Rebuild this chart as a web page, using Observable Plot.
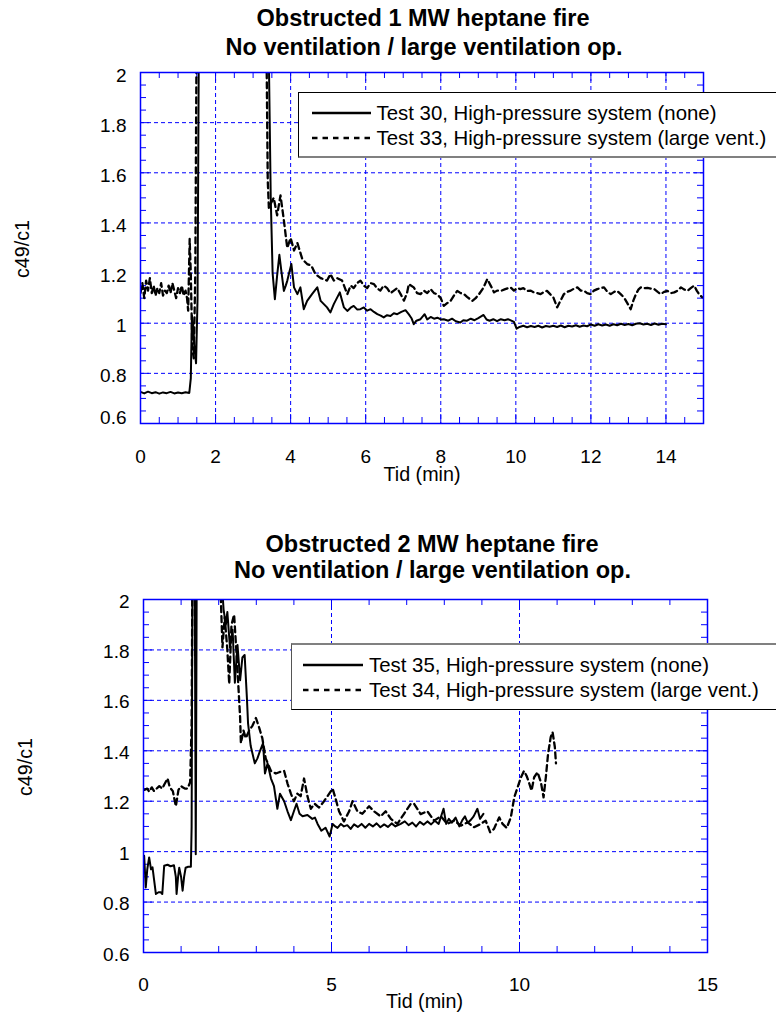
<!DOCTYPE html>
<html>
<head>
<meta charset="utf-8">
<script src="https://cdn.jsdelivr.net/npm/d3@7"></script>
<script src="https://cdn.jsdelivr.net/npm/@observablehq/plot@0.6"></script>
<style>
  html, body { margin: 0; padding: 0; background: #fff; }
  #page { position: relative; width: 776px; height: 1016px; overflow: hidden;
          font-family: "Liberation Sans", Arial, Helvetica, sans-serif; color: #000; }
  #page > svg { position: absolute; left: 0; }
  .t { position: absolute; white-space: nowrap; line-height: 1; }
  .c { transform: translate(-50%, -50%); }
  .title { font-weight: bold; font-size: 23.5px; }
  .axlabel { font-size: 19.7px; }
  .rot { transform: translate(-50%, -50%) rotate(-90deg); }
  .legbox { position: absolute; background: #fff; box-sizing: border-box; }
  .legtext { font-size: 20.4px; transform: translateY(-50%); }
  .sample { position: absolute; overflow: visible; }
</style>
</head>
<body>
<div id="page"></div>
<script>
// ---------- Obstructed 1 MW heptane fire ----------
const t30 = [0, 0.1, 0.2, 0.3, 0.4, 0.5, 0.6, 0.7, 0.8, 0.9, 1.0, 1.1, 1.2, 1.3,
  1.34, 1.37, 1.40, 1.44, 1.48, 1.52, 1.56, 1.65, 2.0, 2.5, 3.0, 3.3, 3.42, 3.47, 3.52,
  3.58, 3.64, 3.70, 3.76, 3.82, 3.87, 3.91, 3.96, 4.02, 4.09, 4.18, 4.26, 4.35, 4.44,
  4.57, 4.71, 4.80, 4.97, 5.06, 5.15, 5.31, 5.42, 5.51, 5.60, 5.68, 5.77, 5.86, 5.95,
  6.04, 6.13, 6.22, 6.31, 6.40, 6.48, 6.57, 6.66, 6.75, 6.84, 6.95, 7.06, 7.15, 7.22,
  7.28, 7.35, 7.46, 7.57, 7.64, 7.73, 7.82, 7.91, 8.0, 8.08, 8.2, 8.3, 8.4, 8.52, 8.6,
  8.7, 8.8, 8.9, 9.0, 9.14, 9.22, 9.3, 9.4, 9.5, 9.6, 9.7, 9.79, 9.88, 9.95, 10.02,
  10.1, 10.2, 10.3, 10.4, 10.5, 10.6, 10.7, 10.8, 10.9, 11.0, 11.1, 11.2, 11.3, 11.4,
  11.5, 11.6, 11.7, 11.8, 11.9, 12.0, 12.1, 12.2, 12.3, 12.4, 12.5, 12.6, 12.7, 12.8,
  12.9, 13.0, 13.1, 13.2, 13.3, 13.4, 13.5, 13.6, 13.7, 13.8, 13.9, 14.0];
const v30 = [0.726, 0.720, 0.727, 0.721, 0.725, 0.719, 0.724, 0.721, 0.726, 0.720, 0.724, 0.721, 0.725, 0.722,
  0.78, 1.03, 1.00, 0.90, 0.84, 1.10, 2.30, 2.60, 2.70, 2.80, 2.70, 2.50, 2.05, 1.50, 1.20,
  1.096, 1.19, 1.273, 1.20, 1.129, 1.15, 1.169, 1.20, 1.236, 1.143, 1.116, 1.143, 1.056, 1.089,
  1.116, 1.143, 1.089, 1.063, 1.043, 1.076, 1.123, 1.063, 1.049, 1.062, 1.069, 1.055, 1.056, 1.063,
  1.050, 1.056, 1.045, 1.036, 1.030, 1.023, 1.032, 1.029, 1.040, 1.036, 1.045, 1.052, 1.035, 1.020,
  0.996, 1.010, 1.016, 1.036, 1.015, 1.025, 1.018, 1.022, 1.015, 1.016, 1.010, 1.018, 1.008, 1.003, 1.012,
  1.010, 1.018, 1.012, 1.020, 1.033, 1.015, 1.010, 1.016, 1.008, 1.016, 1.012, 1.016, 1.010, 1.005, 0.978,
  0.985, 0.990, 0.984, 0.989, 0.985, 0.990, 0.983, 0.989, 0.986, 0.990, 0.985, 0.991, 0.984, 0.990,
  0.987, 0.992, 0.986, 0.991, 0.988, 0.995, 0.990, 0.996, 0.991, 0.995, 0.990, 0.996, 0.992, 0.998,
  0.993, 0.997, 0.992, 0.998, 1.000, 0.995, 0.998, 0.993, 0.999, 0.994, 0.998, 0.996];

const t33 = [0, 0.05, 0.1, 0.15, 0.2, 0.25, 0.3, 0.35, 0.4, 0.45, 0.5, 0.55, 0.6, 0.65, 0.7,
  0.75, 0.8, 0.85, 0.9, 0.95, 1.0, 1.05, 1.1, 1.15, 1.2, 1.24, 1.27, 1.31, 1.34, 1.38, 1.42,
  1.46, 1.50, 1.6, 2.0, 2.5, 3.0, 3.3, 3.36, 3.39, 3.42, 3.48, 3.55, 3.64, 3.73, 3.82, 3.91,
  4.0, 4.09, 4.18, 4.31, 4.44, 4.55, 4.66, 4.80, 4.97, 5.06, 5.15, 5.24, 5.37, 5.51, 5.6,
  5.68, 5.77, 5.86, 5.95, 6.04, 6.13, 6.22, 6.3, 6.39, 6.48, 6.57, 6.66, 6.75, 6.84, 6.93,
  7.02, 7.1, 7.15, 7.28, 7.37, 7.46, 7.55, 7.64, 7.73, 7.82, 7.9, 8.0, 8.08, 8.17, 8.26,
  8.35, 8.44, 8.53, 8.62, 8.7, 8.84, 8.93, 9.02, 9.13, 9.24, 9.33, 9.42, 9.5, 9.6, 9.7,
  9.86, 9.95, 10.03, 10.12, 10.2, 10.3, 10.4, 10.48, 10.57, 10.66, 10.75, 10.83, 10.92,
  11.0, 11.1, 11.19, 11.28, 11.37, 11.46, 11.55, 11.64, 11.73, 11.82, 11.9, 12.0, 12.08,
  12.17, 12.26, 12.35, 12.44, 12.53, 12.62, 12.7, 12.8, 12.88, 12.97, 13.06, 13.13, 13.2,
  13.27, 13.33, 13.42, 13.51, 13.6, 13.69, 13.78, 13.86, 13.95, 14.04, 14.13, 14.22, 14.31,
  14.4, 14.48, 14.57, 14.66, 14.75, 14.82, 14.88, 14.97];
const v33 = [1.12, 1.16, 1.10, 1.17, 1.13, 1.18, 1.12, 1.15, 1.11, 1.14, 1.12, 1.16, 1.11, 1.13, 1.12,
  1.15, 1.12, 1.16, 1.13, 1.10, 1.14, 1.12, 1.15, 1.11, 1.13, 1.10, 1.05, 1.336, 1.20, 0.90, 0.86,
  1.20, 2.30, 2.60, 2.80, 2.80, 2.70, 2.40, 2.05, 1.57, 1.46, 1.48, 1.50, 1.43, 1.51, 1.41, 1.30,
  1.34, 1.29, 1.32, 1.256, 1.236, 1.23, 1.196, 1.18, 1.17, 1.196, 1.17, 1.18, 1.17, 1.116, 1.15,
  1.14, 1.16, 1.17, 1.15, 1.14, 1.16, 1.156, 1.14, 1.13, 1.15, 1.14, 1.12, 1.13, 1.14, 1.116,
  1.09, 1.12, 1.156, 1.143, 1.12, 1.116, 1.13, 1.12, 1.136, 1.12, 1.116, 1.10, 1.069, 1.08, 1.089,
  1.11, 1.129, 1.12, 1.116, 1.105, 1.089, 1.10, 1.116, 1.14, 1.176, 1.15, 1.123, 1.13, 1.129, 1.135,
  1.143, 1.13, 1.14, 1.136, 1.14, 1.129, 1.13, 1.123, 1.12, 1.116, 1.125, 1.129, 1.115,
  1.103, 1.063, 1.09, 1.116, 1.125, 1.13, 1.138, 1.143, 1.13, 1.129, 1.12, 1.116, 1.13,
  1.136, 1.14, 1.143, 1.125, 1.116, 1.125, 1.129, 1.115, 1.103, 1.08, 1.056, 1.09, 1.116,
  1.135, 1.143, 1.14, 1.141, 1.138, 1.136, 1.125, 1.116, 1.125, 1.129, 1.12, 1.123, 1.13,
  1.143, 1.135, 1.129, 1.14, 1.15, 1.13, 1.116, 1.103];

// ---------- Obstructed 2 MW heptane fire ----------
const t35 = [0.017, 0.06, 0.10, 0.15, 0.20, 0.24, 0.28, 0.33, 0.40, 0.46, 0.50, 0.55, 0.64,
  0.72, 0.81, 0.86, 0.88, 0.92, 0.95, 1.0, 1.04, 1.08, 1.12, 1.19, 1.26, 1.28, 1.31, 1.36,
  1.39, 1.42, 1.6, 2.0, 2.09, 2.13, 2.19, 2.23, 2.30, 2.37, 2.43, 2.50, 2.57, 2.63, 2.69,
  2.75, 2.78, 2.85, 2.96, 3.03, 3.1, 3.18, 3.23, 3.30, 3.39, 3.47, 3.56, 3.63, 3.74, 3.83,
  3.92, 4.0, 4.07, 4.15, 4.23, 4.36, 4.49, 4.56, 4.63, 4.73, 4.84, 4.95, 5.03, 5.1, 5.16,
  5.25, 5.33, 5.42, 5.51, 5.6, 5.7, 5.8, 5.9, 6.0, 6.1, 6.2, 6.3, 6.4, 6.5, 6.6, 6.7, 6.84,
  6.95, 7.05, 7.15, 7.25, 7.35, 7.45, 7.55, 7.65, 7.75, 7.85, 7.98, 8.05, 8.12, 8.2, 8.3,
  8.4, 8.48, 8.55, 8.62, 8.7, 8.78, 8.88, 8.95, 9.04];
const v35 = [0.984, 0.858, 0.93, 0.977, 0.93, 0.938, 0.89, 0.832, 0.839, 0.839, 0.832, 0.944, 0.948,
  0.942, 0.946, 0.90, 0.832, 0.90, 0.936, 0.90, 0.845, 0.90, 0.936, 0.94, 0.94, 1.10, 2.40, 2.20,
  0.99, 2.30, 2.80, 2.60, 2.05, 1.96, 1.90, 1.95, 1.81, 1.88, 1.67, 1.82, 1.68, 1.77, 1.78,
  1.61, 1.51, 1.42, 1.35, 1.37, 1.40, 1.43, 1.31, 1.35, 1.29, 1.26, 1.17, 1.23, 1.20, 1.16,
  1.125, 1.16, 1.19, 1.15, 1.14, 1.145, 1.13, 1.135, 1.11, 1.083, 1.095, 1.06, 1.11, 1.10, 1.094,
  1.11, 1.10, 1.105, 1.09, 1.108, 1.098, 1.11, 1.095, 1.11, 1.10, 1.112, 1.097, 1.108, 1.098, 1.112, 1.10, 1.11,
  1.12, 1.105, 1.115, 1.10, 1.118, 1.107, 1.12, 1.108, 1.123, 1.11, 1.17, 1.11, 1.13, 1.115, 1.135,
  1.10, 1.125, 1.14, 1.115, 1.125, 1.14, 1.17, 1.13, 1.15];

const t34 = [0.02, 0.1, 0.15, 0.22, 0.28, 0.35, 0.42, 0.5, 0.55, 0.64, 0.7, 0.78, 0.86, 0.93,
  1.0, 1.04, 1.1, 1.17, 1.24, 1.28, 1.31, 1.5, 2.0, 2.04, 2.06, 2.1, 2.16, 2.23, 2.28, 2.34,
  2.41, 2.48, 2.52, 2.57, 2.59, 2.66, 2.72, 2.81, 2.9, 2.99, 3.08, 3.16, 3.25, 3.39, 3.52,
  3.61, 3.74, 3.83, 3.92, 4.0, 4.09, 4.18, 4.27, 4.36, 4.45, 4.55, 4.67, 4.8, 4.94, 5.03,
  5.11, 5.2, 5.33, 5.47, 5.56, 5.69, 5.82, 6.0, 6.13, 6.31, 6.44, 6.58, 6.75, 6.93, 7.11,
  7.2, 7.37, 7.55, 7.73, 7.91, 8.08, 8.26, 8.44, 8.62, 8.79, 8.97, 9.1, 9.22, 9.32, 9.46,
  9.55, 9.66, 9.77, 9.86, 9.95, 10.04, 10.12, 10.19, 10.25, 10.32, 10.39, 10.48, 10.57,
  10.64, 10.7, 10.76, 10.83, 10.88, 10.94, 10.97];
const v34 = [1.245, 1.25, 1.238, 1.255, 1.24, 1.25, 1.26, 1.25, 1.265, 1.29, 1.255, 1.24, 1.18, 1.245,
  1.26, 1.255, 1.25, 1.25, 1.275, 1.51, 2.40, 2.80, 2.60, 2.10, 1.99, 1.81, 1.93, 1.80, 1.665, 1.90,
  1.94, 1.77, 1.665, 1.53, 1.43, 1.48, 1.45, 1.48, 1.50, 1.53, 1.49, 1.45, 1.37, 1.32, 1.31,
  1.315, 1.32, 1.27, 1.23, 1.20, 1.23, 1.22, 1.29, 1.22, 1.17, 1.19, 1.175, 1.20, 1.23, 1.25,
  1.21, 1.16, 1.12, 1.16, 1.20, 1.16, 1.15, 1.18, 1.16, 1.14, 1.16, 1.13, 1.11, 1.15, 1.19,
  1.189, 1.149, 1.16, 1.123, 1.14, 1.11, 1.123, 1.103, 1.116, 1.097, 1.11, 1.123, 1.077, 1.09, 1.136,
  1.11, 1.094, 1.136, 1.215, 1.255, 1.295, 1.32, 1.30, 1.275, 1.242, 1.295, 1.315, 1.275,
  1.215, 1.295, 1.388, 1.454, 1.474, 1.415, 1.35];

// ---------- axis ticks ----------
const xLabelsTop = [0, 2, 4, 6, 8, 10, 12, 14];
const xGridTop = [2, 4, 6, 8, 10, 12, 14];
const xLabelsBottom = [0, 5, 10, 15];
const xGridBottom = [5, 10];
const yLabels = [0.6, 0.8, 1, 1.2, 1.4, 1.6, 1.8, 2];
const yGrid = [0.8, 1, 1.2, 1.4, 1.6, 1.8];

const BLUE = "#0000ff";
const FONT = '"Liberation Sans", Arial, Helvetica, sans-serif';

const zip = (ts, vs) => ts.map((t, i) => ({t, v: vs[i]}));

// inward frame ticks, drawn as short rules inset from the opposite edge
function edgeTicks(xs, ys, len, fw, fh) {
  const s = {stroke: BLUE, strokeWidth: 1};
  return [
    Plot.ruleX(xs, {...s, x: d => d, insetTop: fh - len}),
    Plot.ruleX(xs, {...s, x: d => d, insetBottom: fh - len}),
    Plot.ruleY(ys, {...s, y: d => d, insetRight: fw - len}),
    Plot.ruleY(ys, {...s, y: d => d, insetLeft: fw - len})
  ];
}

function chart(cfg) {
  const fw = 776 - cfg.ml - cfg.mr;
  const fh = cfg.height - cfg.mt - cfg.mb;
  const minorY = d3.range(13, 40).filter(i => i % 4 !== 0).map(i => i / 20);
  const majorY = yGrid;
  return Plot.plot({
    width: 776,
    height: cfg.height,
    marginLeft: cfg.ml, marginRight: cfg.mr, marginTop: cfg.mt, marginBottom: cfg.mb,
    style: {fontFamily: FONT, fontSize: "19px", color: "#000", background: "transparent", overflow: "visible"},
    x: {domain: [0, 15], axis: null},
    y: {domain: [0.6, 2], axis: null},
    marks: [
      Plot.gridX(cfg.xGrid, {stroke: BLUE, strokeOpacity: 1, strokeWidth: 1, strokeDasharray: "4,3"}),
      Plot.gridY(yGrid, {stroke: BLUE, strokeOpacity: 1, strokeWidth: 1, strokeDasharray: "4,3"}),
      ...edgeTicks(cfg.xMinor, minorY, 6, fw, fh),
      ...edgeTicks(cfg.xGrid, majorY, 9, fw, fh),
      Plot.line(cfg.solid, {x: "t", y: "v", stroke: "#000", strokeWidth: 2, clip: true}),
      Plot.line(cfg.dashed, {x: "t", y: "v", stroke: "#000", strokeWidth: 2.3, strokeDasharray: "6,4", clip: true}),
      Plot.frame({stroke: BLUE, strokeWidth: 1.5}),
      Plot.axisX({ticks: cfg.xLabels, anchor: "bottom", tickSize: 0, tickPadding: cfg.xPad, tickFormat: String, label: null}),
      ...cfg.yAxes.map(a => Plot.axisY({ticks: a.ticks, anchor: "left", tickSize: 0, tickPadding: 14, tickFormat: String, label: null, dy: a.dy}))
    ]
  });
}

const page = document.getElementById("page");

const top1 = chart({
  height: 500, ml: 140, mr: 73, mt: 72, mb: 77,
  xGrid: xGridTop, xLabels: xLabelsTop, xPad: 26,
  xMinor: d3.range(1, 30).filter(i => i % 4 !== 0).map(i => i / 2),
  yAxes: [{ticks: yLabels.slice(1), dy: 3}, {ticks: [0.6], dy: -6}],
  solid: zip(t30, v30), dashed: zip(t33, v33)
});
top1.style.top = "0px";
page.appendChild(top1);

const bottom1 = chart({
  height: 496, ml: 143, mr: 69, mt: 79, mb: 64,
  xGrid: xGridBottom, xLabels: xLabelsBottom, xPad: 25,
  xMinor: d3.range(1, 15).filter(i => i % 5 !== 0),
  yAxes: [{ticks: yLabels, dy: 2}],
  solid: zip(t35, v35), dashed: zip(t34, v34)
});
bottom1.style.top = "520px";
page.appendChild(bottom1);

// ---------- text ----------
function label(text, x, y, cls) {
  const d = document.createElement("div");
  d.className = "t " + cls;
  d.style.left = x + "px";
  d.style.top = y + "px";
  d.textContent = text;
  page.appendChild(d);
}
label("Obstructed 1 MW heptane fire", 423, 18.8, "c title");
label("No ventilation / large ventilation op.", 424, 47.8, "c title");
label("Obstructed 2 MW heptane fire", 432, 544.7, "c title");
label("No ventilation / large ventilation op.", 432.5, 570.8, "c title");
label("Tid (min)", 422, 475, "c axlabel");
label("Tid (min)", 424.5, 1001.7, "c axlabel");
label("c49/c1", 22.5, 249, "rot axlabel");
label("c49/c1", 25.5, 767, "rot axlabel");

// ---------- legends ----------
function legend(box, entries) {
  const b = document.createElement("div");
  b.className = "legbox";
  Object.assign(b.style, box.style, {
    left: box.x + "px", top: box.y + "px", width: "600px", height: box.h + "px"
  });
  page.appendChild(b);
  for (const e of entries) {
    const s = d3.create("svg").attr("class", "sample")
      .attr("width", e.x2 - e.x1).attr("height", 8)
      .style("left", e.x1 + "px").style("top", (e.y - 4) + "px");
    s.append("line").attr("x1", 0).attr("x2", e.x2 - e.x1).attr("y1", 4).attr("y2", 4)
      .attr("stroke", "#000").attr("stroke-width", 2.3)
      .attr("stroke-dasharray", e.dash || null);
    page.appendChild(s.node());
    label(e.text, e.tx, e.y, "legtext");
  }
}

legend({x: 298, y: 92, h: 66, style: {borderTop: "1px solid #000", borderLeft: "1px solid #000", borderBottom: "2px solid #808080"}}, [
  {x1: 312, x2: 371, y: 113, tx: 376.5, text: "Test 30, High-pressure system (none)"},
  {x1: 312, x2: 371, y: 138, tx: 376.5, dash: "5.5,5", text: "Test 33, High-pressure system (large vent.)"}
]);
legend({x: 291, y: 643, h: 67, style: {borderTop: "2px solid #808080", borderLeft: "1px solid #555", borderBottom: "1px solid #000"}}, [
  {x1: 303, x2: 363, y: 665, tx: 369, text: "Test 35, High-pressure system (none)"},
  {x1: 303, x2: 363, y: 690, tx: 369, dash: "5.5,5", text: "Test 34, High-pressure system (large vent.)"}
]);
</script>
</body>
</html>
